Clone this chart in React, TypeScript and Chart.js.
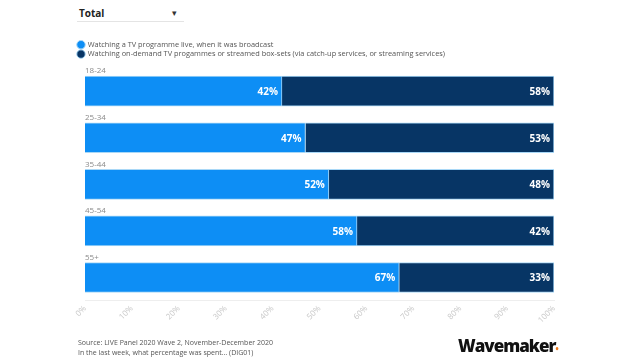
import React, { useEffect, useRef } from "react";
import { Chart, registerables } from "chart.js";
Chart.register(...registerables);

const categories = ["18-24", "25-34", "35-44", "45-54", "55+"];
const liveValues = [42, 47, 52, 58, 67];
const onDemandValues = [58, 53, 48, 42, 33];
const seriesNames = [
  "Watching a TV programme live, when it was broadcast",
  "Watching on-demand TV progammes or streamed box-sets (via catch-up services, or streaming services)",
];
const FONT = "'Open Sans', 'Noto Sans', sans-serif";

const barLabels = {
  id: "barLabels",
  afterDatasetsDraw(chart: any) {
    const ctx = chart.ctx;
    ctx.save();
    const meta0 = chart.getDatasetMeta(0);
    ctx.font = `8px ${FONT}`;
    ctx.fillStyle = "#8a8a8a";
    ctx.textAlign = "left";
    ctx.textBaseline = "bottom";
    meta0.data.forEach((bar: any, i: number) => {
      ctx.fillText(categories[i], chart.chartArea.left, bar.y - bar.height / 2 - 1);
    });
    ctx.font = `bold 10px ${FONT}`;
    ctx.fillStyle = "#ffffff";
    ctx.textAlign = "right";
    ctx.textBaseline = "middle";
    chart.data.datasets.forEach((ds: any, di: number) => {
      const meta = chart.getDatasetMeta(di);
      meta.data.forEach((bar: any, i: number) => {
        ctx.fillText(ds.data[i] + "%", bar.x - 4, bar.y + 1);
      });
    });
    ctx.restore();
  },
};

export default function App() {
  const ref = useRef<HTMLCanvasElement>(null);
  useEffect(() => {
    const chart = new Chart(ref.current!, {
      type: "bar",
      data: {
        labels: categories,
        datasets: [
          {
            label: seriesNames[0],
            data: liveValues,
            backgroundColor: "#0d8ef5",
            borderColor: "#a9d8f7",
            borderWidth: 1,
            barThickness: 30,
          },
          {
            label: seriesNames[1],
            data: onDemandValues,
            backgroundColor: "#073565",
            borderColor: "#a9d8f7",
            borderWidth: 1,
            barThickness: 30,
          },
        ],
      },
      options: {
        indexAxis: "y",
        animation: false,
        responsive: false,
        layout: { padding: { left: 76, right: 86, top: 39, bottom: 32 } },
        plugins: {
          legend: {
            position: "top",
            align: "start",
            labels: {
              usePointStyle: true,
              pointStyle: "circle",
              boxWidth: 6,
              boxHeight: 6,
              padding: 2,
              color: "#555",
              font: { size: 7.4, family: FONT },
            },
          },
          tooltip: { enabled: false },
        },
        scales: {
          x: {
            stacked: true,
            min: 0,
            max: 100,
            ticks: {
              stepSize: 10,
              minRotation: 45,
              maxRotation: 45,
              color: "#c8c8c8",
              font: { size: 8, family: FONT },
              callback: (v: any) => v + "%",
            },
            grid: { display: false, drawTicks: false },
            border: { display: true, color: "#eeeeee" },
          },
          y: {
            stacked: true,
            ticks: { display: false },
            grid: { display: false },
            border: { display: false },
            afterFit: (s: any) => {
              s.width = 9;
            },
          },
        },
      },
      plugins: [barLabels],
    });
    return () => chart.destroy();
  }, []);

  return (
    <div style={{ position: "fixed", left: 0, top: 0, width: 640, height: 360, background: "#fff", fontFamily: FONT, overflow: "hidden" }}>
      <div style={{ position: "absolute", left: 79, top: 6, fontSize: 10, fontWeight: 700, color: "#222" }}>Total</div>
      <div style={{ position: "absolute", left: 172, top: 6, fontSize: 9, color: "#333" }}>▾</div>
      <div style={{ position: "absolute", left: 77, top: 21, width: 107, height: 1, background: "#e4e4e4" }} />
      <canvas ref={ref} width={640} height={360} style={{ position: "absolute", left: 0, top: 0 }} />
      <div style={{ position: "absolute", left: 78, top: 338, fontSize: 7, color: "#555", lineHeight: "10px" }}>
        <div>Source: LIVE Panel 2020 Wave 2, November-December 2020</div>
        <div>In the last week, what percentage was spent… (DIG01)</div>
      </div>
      <div style={{ position: "absolute", left: 458, top: 334, fontSize: 17, fontWeight: 800, color: "#111", letterSpacing: -1 }}>
        Wavemaker<span style={{ color: "#f07a1a", fontSize: 8 }}>•</span>
      </div>
    </div>
  );
}
